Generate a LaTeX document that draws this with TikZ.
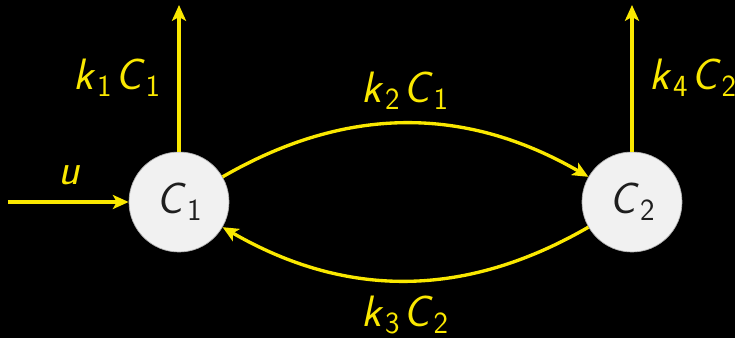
\documentclass[tikz,border=0pt]{standalone}
\usepackage{fontspec}
\renewcommand\familydefault{\sfdefault}
\usetikzlibrary{arrows.meta}
\definecolor{fy}{RGB}{250,232,0}
\definecolor{cfill}{RGB}{241,241,241}
\definecolor{ctext}{RGB}{30,30,30}
\newcommand\vr[2]{\textit{#1}\kern0.5pt\raisebox{-4pt}{\fontsize{17.5}{20}\selectfont #2}}
\begin{document}
\begin{tikzpicture}[x=0.02cm,y=-0.02cm,
  flow/.style={draw=fy, line width=1.9pt, -{Stealth[length=9pt,width=8pt,inset=2.2pt]}},
  pool/.style={circle, fill=cfill, draw=gray!60, line width=0.4pt, minimum size=2cm, inner sep=0pt, text=ctext, font=\fontsize{25}{29}\selectfont},
  lab/.style={text=fy, font=\fontsize{25}{29}\selectfont, inner sep=0pt}]
\useasboundingbox (0,0) rectangle (735,338);
\fill[black] (0,0) rectangle (735,338);
\node[pool] (C1) at (179,202) {\vr{C}{1}};
\node[pool] (C2) at (632,202) {\vr{C}{2}};
\coordinate (in) at (8,202);
\coordinate (out1) at (179,5);
\coordinate (out4) at (632,5);
\draw[flow] (in) -- (C1);
\draw[flow] (C1) -- (out1);
\draw[flow] (C2) -- (out4);
\draw[flow] (C1.30) to[bend left=30] (C2.150);
\draw[flow] (C2.210) to[bend left=30] (C1.330);
\node[lab] (lu) at (69,175) {\textit{u}};
\node[lab] (l1) at (117,78) {\vr{k}{1}\kern2pt\vr{C}{1}};
\node[lab] (l2) at (405,91) {\vr{k}{2}\kern2pt\vr{C}{1}};
\node[lab] (l3) at (405,315) {\vr{k}{3}\kern2pt\vr{C}{2}};
\node[lab] (l4) at (693,78) {\vr{k}{4}\kern2pt\vr{C}{2}};
\end{tikzpicture}
\end{document}
